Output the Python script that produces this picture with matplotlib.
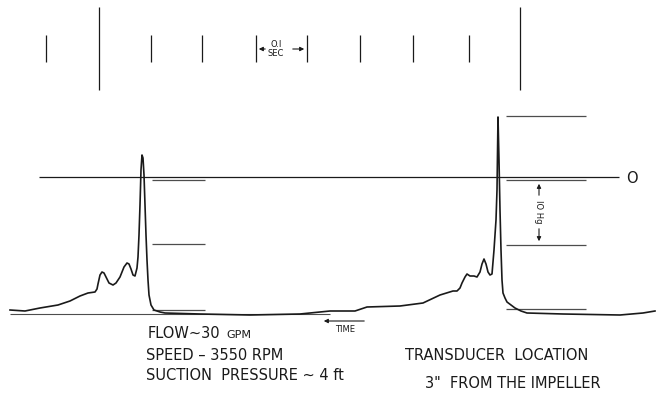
import matplotlib.pyplot as plt

# pressure trace (x = time axis, y = pen position, image coords)
trace_x = [10, 25, 40, 58, 70, 80, 88, 95, 97, 98, 100, 102, 104, 106, 109, 113,
           116, 120, 124, 127, 129, 131, 133, 135, 137, 138, 139, 140, 141, 142,
           143, 144, 145, 146, 147, 148, 149, 151, 154, 160, 165, 200, 250, 300,
           330, 355, 367, 400, 423, 440, 453, 457, 460, 462, 465, 467, 470, 474,
           477, 480, 482, 484, 486, 488, 490, 492, 494, 495, 496, 497, 498, 499,
           500, 501, 502, 503, 505, 507, 511, 515, 521, 527, 563, 620, 643, 655]
trace_y = [310, 311, 308, 305, 301, 296, 293, 292, 289, 284, 275, 272, 273, 277, 283, 285,
           283, 277, 267, 263, 264, 269, 275, 276, 268, 257, 235, 205, 170, 155,
           158, 175, 205, 235, 260, 280, 295, 305, 310, 312, 313, 314, 315, 314,
           311, 311, 307, 306, 303, 295, 291, 291, 288, 283, 277, 274, 276, 276,
           277, 272, 264, 259, 264, 272, 275, 274, 250, 235, 220, 190, 117, 160,
           210, 250, 280, 293, 298, 302, 305, 308, 311, 313, 314, 315, 313, 311]

# timing marks at top
short_marks = [46, 151, 202, 256, 307, 360, 413, 469]
long_marks = [99, 520]

# calibration lines (10 Hg steps)
left_levels = [180, 244, 310]
right_levels = [116, 180, 245, 309]
zero_level = 177

LINE = '#1a1a1a'
REF = '#4d4d4d'
FS = 10.5

fig = plt.figure(figsize=(6.6, 3.94), dpi=100)
ax = fig.add_axes([0, 0, 1, 1])
ax.set_xlim(0, 660)
ax.set_ylim(394, 0)
ax.axis('off')

# timing marks
ax.vlines(short_marks, 35, 62, color=LINE, lw=0.9)
ax.vlines(long_marks, 7, 90, color=LINE, lw=0.9)
ax.annotate('', xy=(256, 49), xytext=(268, 49),
            arrowprops=dict(arrowstyle='-|>', color=LINE, lw=0.8, mutation_scale=6))
ax.annotate('', xy=(307, 49), xytext=(290, 49),
            arrowprops=dict(arrowstyle='-|>', color=LINE, lw=0.8, mutation_scale=6))
ax.text(276, 44, 'O.I', ha='center', va='center', fontsize=6, color=LINE)
ax.text(276, 53.5, 'SEC', ha='center', va='center', fontsize=6, color=LINE)

# zero line and calibration lines
ax.hlines(zero_level, 39, 619, color=LINE, lw=0.9)
ax.text(632, 178, 'O', ha='center', va='center', fontsize=10.5, color=LINE)
ax.hlines(left_levels, 152, 205, color=REF, lw=0.9)
ax.hlines(right_levels, 506, 586, color=REF, lw=0.9)

# 10 Hg scale arrow
ax.annotate('', xy=(539, 181), xytext=(539, 198),
            arrowprops=dict(arrowstyle='-|>', color=LINE, lw=0.8, mutation_scale=6))
ax.annotate('', xy=(539, 244), xytext=(539, 226),
            arrowprops=dict(arrowstyle='-|>', color=LINE, lw=0.8, mutation_scale=6))
ax.text(539, 212, 'IO Hg', rotation=-90, ha='center', va='center', fontsize=6, color=LINE)

# baseline and trace
ax.hlines(313.5, 10, 330, color=REF, lw=0.8)
ax.plot(trace_x, trace_y, color=LINE, lw=1.2, solid_joinstyle='round')

# time arrow
ax.annotate('', xy=(321, 321), xytext=(367, 321),
            arrowprops=dict(arrowstyle='-|>', color=LINE, lw=0.8, mutation_scale=6))
ax.text(345, 332, 'TIME', ha='center', va='baseline', fontsize=6, color=LINE)

# test conditions
flow = ax.text(148, 338, 'FLOW\u223c30', ha='left', va='baseline', fontsize=FS, color=LINE)
ax.annotate('GPM', xy=(1, 0), xycoords=flow, xytext=(4, 0.6), textcoords='offset points',
            ha='left', va='bottom', fontsize=8, color=LINE)
ax.text(146, 360, 'SPEED \u2013 3550 RPM', ha='left', va='baseline', fontsize=FS, color=LINE)
ax.text(146, 380, 'SUCTION  PRESSURE \u223c 4 ft', ha='left', va='baseline', fontsize=FS, color=LINE)
ax.text(405, 360, 'TRANSDUCER  LOCATION', ha='left', va='baseline', fontsize=FS, color=LINE)
ax.text(425, 388, '3"  FROM THE IMPELLER', ha='left', va='baseline', fontsize=FS, color=LINE)

fig.savefig('out.png', dpi=100, facecolor='white')
